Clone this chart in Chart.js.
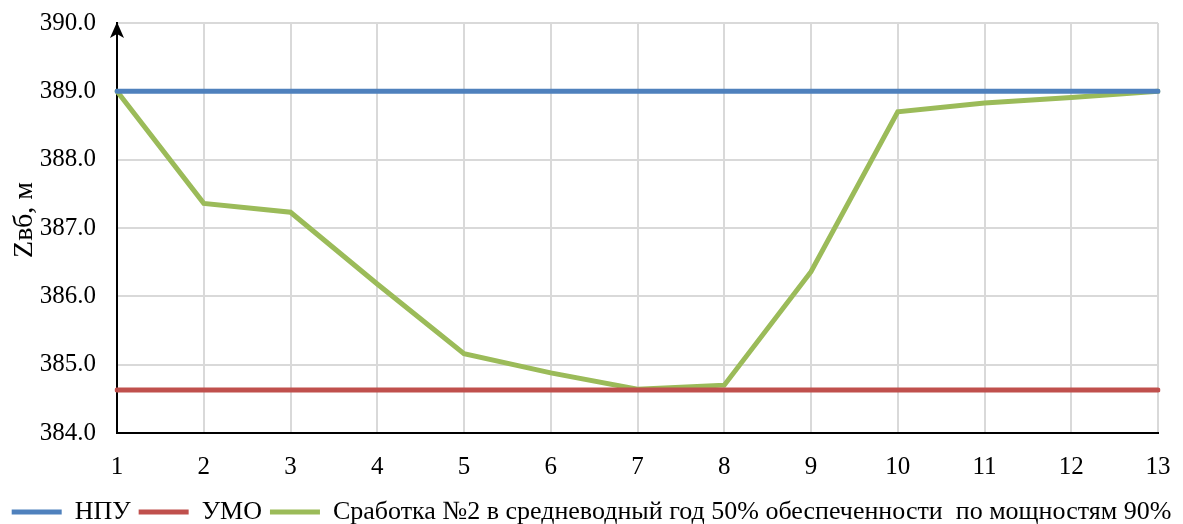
<!DOCTYPE html>
<html>
<head>
<meta charset="utf-8">
<script src="https://cdn.jsdelivr.net/npm/chart.js@4"></script>
<style>
html,body{margin:0;padding:0;background:#fff;}
#wrap{width:1183px;height:524px;position:relative;}
</style>
</head>
<body>
<div id="wrap"><canvas id="c" width="1183" height="524"></canvas></div>
<script>
const categories = ['1','2','3','4','5','6','7','8','9','10','11','12','13'];
const npuValues = [389.0,389.0,389.0,389.0,389.0,389.0,389.0,389.0,389.0,389.0,389.0,389.0,389.0];
const umoValues = [384.63,384.63,384.63,384.63,384.63,384.63,384.63,384.63,384.63,384.63,384.63,384.63,384.63];
const drawdownValues = [389.0,387.36,387.23,386.18,385.16,384.88,384.64,384.70,386.36,388.70,388.83,388.91,389.0];
const seriesNames = ['НПУ','УМО','Сработка №2 в средневодный год 50% обеспеченности  по мощностям 90%'];
const yTitle = 'Zвб, м';
const yMin = 384, yMax = 390, yStep = 1;

const FONT = "'Liberation Serif', 'Times New Roman', serif";

const overlay = {
  id: 'overlay',
  afterDraw(chart) {
    const ctx = chart.ctx;
    const a = chart.chartArea;
    ctx.save();
    ctx.fillStyle = '#000';
    ctx.beginPath();
    ctx.moveTo(a.left, a.top - 1);
    ctx.lineTo(a.left - 7, a.top + 15);
    ctx.lineTo(a.left, a.top + 11);
    ctx.lineTo(a.left + 7, a.top + 15);
    ctx.closePath();
    ctx.fill();
    ctx.translate(a.left - 92, (a.top + a.bottom) / 2 - 8);
    ctx.rotate(-Math.PI / 2);
    ctx.fillStyle = '#000';
    ctx.font = "28px " + FONT;
    ctx.textAlign = 'center';
    ctx.textBaseline = 'middle';
    ctx.fillText(yTitle, 0, 0);
    ctx.restore();
  }
};

new Chart(document.getElementById('c'), {
  type: 'line',
  data: {
    labels: categories,
    datasets: [
      {label: seriesNames[0], data: npuValues, borderColor: '#4F81BD', backgroundColor: '#4F81BD', borderWidth: 5, pointRadius: 0, borderCapStyle: 'round', yAxisID: 'y'},
      {label: seriesNames[1], data: umoValues, borderColor: '#C0504D', backgroundColor: '#C0504D', borderWidth: 5, pointRadius: 0, borderCapStyle: 'round', yAxisID: 'y'},
      {label: seriesNames[2], data: drawdownValues, borderColor: '#9BBB59', backgroundColor: '#9BBB59', borderWidth: 5, pointRadius: 0, borderCapStyle: 'round', yAxisID: 'y'}
    ]
  },
  options: {
    responsive: false,
    animation: false,
    devicePixelRatio: 1,
    layout: {padding: {top: 23, left: 0, right: 0, bottom: -11}},
    plugins: {
      legend: {
        position: 'bottom',
        labels: {
          usePointStyle: true,
          pointStyle: 'line',
          pointStyleWidth: 50,
          boxHeight: 4,
          padding: 8,
          color: '#000',
          font: {family: FONT, size: 26}
        }
      },
      tooltip: {enabled: false}
    },
    scales: {
      x: {
        offset: false,
        grid: {color: '#d9d9d9', lineWidth: 2, drawTicks: false},
        border: {color: '#000', width: 2},
        ticks: {color: '#000', font: {family: FONT, size: 25}, padding: 19, maxRotation: 0, autoSkip: false},
        afterFit(s) { s.height = 58; s.paddingLeft = 0; s.paddingRight = 0; }
      },
      y: {
        min: yMin, max: yMax,
        grid: {color: '#d9d9d9', lineWidth: 2, drawTicks: false},
        border: {color: '#000', width: 2},
        ticks: {stepSize: yStep, color: '#000', font: {family: FONT, size: 25}, padding: 21,
          callback: v => Number(v).toFixed(1)},
        afterFit(s) { s.width = 117; s.paddingTop = 0; s.paddingBottom = 0; }
      },
      yr: {
        position: 'right',
        display: true,
        grid: {display: false, drawTicks: false},
        border: {display: false},
        ticks: {display: false},
        afterFit(s) { s.width = 25; s.paddingTop = 0; s.paddingBottom = 0; }
      }
    }
  },
  plugins: [overlay]
});
</script>
</body>
</html>
